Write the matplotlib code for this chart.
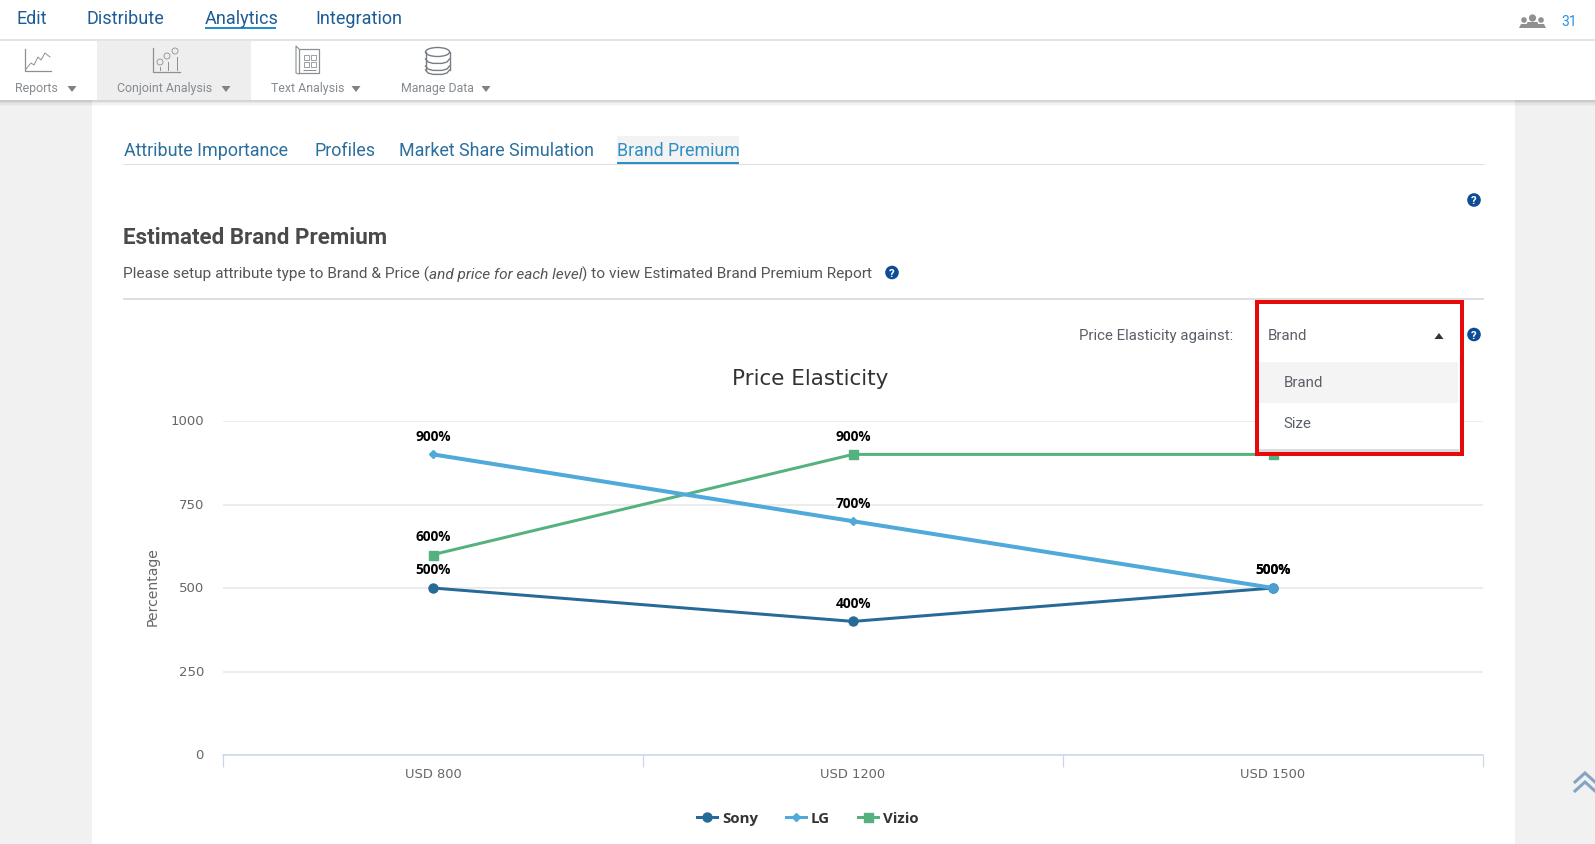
"""Price Elasticity line chart inside the Brand Premium report screen."""
import matplotlib
matplotlib.use("Agg")
import matplotlib.pyplot as plt
from matplotlib.patches import Circle, Ellipse, Polygon, Rectangle
from matplotlib.transforms import ScaledTranslation

W, H = 1595, 845

price_levels = ["USD 800", "USD 1200", "USD 1500"]
sony_values = [500, 400, 500]
lg_values = [900, 700, 500]
vizio_values = [600, 900, 900]
y_ticks = [0, 250, 500, 750, 1000]

nav_items = [("Edit", 16), ("Distribute", 86), ("Analytics", 205), ("Integration", 315)]
tool_items = [("Reports", 15, 72), ("Conjoint Analysis", 117, 226),
              ("Text Analysis", 271, 356), ("Manage Data", 401, 486)]
tab_items = [("Attribute Importance", 124), ("Profiles", 315),
             ("Market Share Simulation", 399)]

UI_FONT = "Roboto"
CHART_FONT = "DejaVu Sans"
LABEL_FONT = "Open Sans"
NAV_BLUE = "#1d5c96"
TAB_BLUE = "#2a6f9e"
ICON_GRAY = "#8b9095"
HELP_BLUE = "#0f4c96"


def px(size):
    # css pixels to points at dpi 100
    return size * 0.72


def add_layer(fig, zorder):
    ax = fig.add_axes([0, 0, 1, 1], zorder=zorder)
    ax.set_xlim(0, W)
    ax.set_ylim(H, 0)
    ax.axis("off")
    ax.patch.set_alpha(0)
    return ax


def rect(ax, x0, y0, x1, y1, color, **kw):
    ax.add_patch(Rectangle((x0, y0), x1 - x0, y1 - y0, facecolor=color,
                           edgecolor="none", **kw))


def hline(ax, x0, x1, y, color, width=1.0):
    ax.plot([x0, x1], [y, y], color=color, lw=px(width), solid_capstyle="butt")


def down_arrow(ax, x, y, up=False, color="#7b8288", size=4.5):
    tip = y - 3 if up else y + 3.5
    base = y + 3 if up else y - 2.5
    ax.add_patch(Polygon([(x - size, base), (x + size, base), (x, tip)],
                         facecolor=color, edgecolor="none"))


def help_icon(ax, x, y):
    ax.add_patch(Circle((x, y), 6.8, facecolor=HELP_BLUE, edgecolor="none"))
    ax.text(x, y + 0.3, "?", color="white", fontsize=px(11.5), fontweight="bold",
            family=UI_FONT, ha="center", va="center")


def draw_toolbar_icons(ax):
    # Reports
    ax.plot([25, 25, 51], [50, 72, 72], color=ICON_GRAY, lw=0.9)
    ax.plot([26, 31, 34, 38, 41, 45, 50], [70, 64, 66, 58, 61, 54, 58],
            color=ICON_GRAY, lw=0.7)
    # Conjoint Analysis
    ax.plot([153, 153, 180], [49, 73, 73], color=ICON_GRAY, lw=0.9)
    for cx, cy in [(160, 63), (167, 57), (175, 52)]:
        ax.add_patch(Circle((cx, cy), 3, facecolor="none", edgecolor=ICON_GRAY, lw=0.6))
    for x0, y0 in [(160, 68), (168, 63), (177, 58)]:
        ax.plot([x0, x0], [y0, 71], color=ICON_GRAY, lw=0.7)
    # Text Analysis
    ax.add_patch(Rectangle((299, 50), 20, 24, facecolor="none", edgecolor=ICON_GRAY, lw=0.9))
    ax.plot([299, 296, 296, 299], [50, 47, 74, 75], color=ICON_GRAY, lw=0.8)
    for bx, by in [(304, 56), (311, 56), (304, 63), (311, 63)]:
        ax.add_patch(Rectangle((bx, by), 5, 5, facecolor="none", edgecolor=ICON_GRAY, lw=0.6))
    hline(ax, 303, 316, 71, ICON_GRAY)
    # Manage Data
    color = "#777d83"
    ax.add_patch(Ellipse((437.5, 53), 24, 9, facecolor="white", edgecolor=color, lw=1.0))
    for cy in (61, 68):
        ax.plot([425.5, 428, 433, 442, 447, 449.5],
                [cy - 1, cy + 2, cy + 3.4, cy + 3.4, cy + 2, cy - 1], color=color, lw=1.0)
    ax.plot([425.5, 428, 433, 442, 447, 449.5],
            [71, 74, 75.4, 75.4, 74, 71], color=color, lw=1.0)
    for x0 in (425.5, 449.5):
        ax.plot([x0, x0], [53, 71], color=color, lw=1.0)


def draw_users_icon(ax):
    for cx, cy, r, w, top in [(1524, 21, 2.8, 5, 25), (1541, 21, 2.8, 5, 25),
                              (1532.5, 19, 3.6, 7, 23)]:
        ax.add_patch(Circle((cx, cy), r, facecolor="#8f9090", edgecolor="none"))
        ax.add_patch(Polygon([(cx - w, 29), (cx + w, 29), (cx + w - 2, top),
                              (cx - w + 2, top)], facecolor="#8f9090", edgecolor="none"))


def draw_page(ax):
    rect(ax, 0, 0, W, H, "#f1f1f1")
    rect(ax, 92, 101, 1515, H, "white")
    rect(ax, 0, 0, W, 101, "white")
    # soft shadow under the toolbar
    for i, alpha in enumerate([0.16, 0.09, 0.05, 0.025]):
        rect(ax, 0, 101 + i * 1.5, W, 102.5 + i * 1.5, "black", alpha=alpha)
    hline(ax, 0, W, 41, "#dcdcdc", 1.5)
    rect(ax, 97, 42, 251, 101, "#eeeeee")

    for label, x in nav_items:
        ax.text(x, 19, label, color=NAV_BLUE, fontsize=px(18), family=UI_FONT,
                ha="left", va="center")
    rect(ax, 205, 28, 276, 30, "#1e90d0")
    draw_users_icon(ax)
    ax.text(1561, 22, "31", color="#2d8fe0", fontsize=px(14), family=UI_FONT,
            ha="left", va="center")

    for label, x, arrow_x in tool_items:
        ax.text(x, 88.5, label, color="#858b90", fontsize=px(12.4), family=UI_FONT,
                ha="left", va="center")
        down_arrow(ax, arrow_x, 89.5)
    draw_toolbar_icons(ax)

    for label, x in tab_items:
        ax.text(x, 151, label, color=TAB_BLUE, fontsize=px(17.9), family=UI_FONT,
                ha="left", va="center")
    rect(ax, 617, 137, 739, 163, "#f3f3f3")
    ax.text(617, 150.5, "Brand Premium", color="#2f8fc4", fontsize=px(17.7),
            family=UI_FONT, ha="left", va="center")
    hline(ax, 123, 1484, 165, "#dddddd")
    rect(ax, 617, 163, 739, 166, "#2a90c8")
    help_icon(ax, 1474, 201)

    ax.text(123, 238, "Estimated Brand Premium", color="#4a4a4a", fontsize=px(22.4),
            fontweight="bold", family=UI_FONT, ha="left", va="center")
    sub_kw = dict(color="#555555", fontsize=px(15.45), family=UI_FONT)
    t = ax.text(123, 274, "Please setup attribute type to Brand & Price (", ha="left",
                va="center", **sub_kw)
    t = ax.annotate("and price for each level", xy=(1, 0), xycoords=t, xytext=(0, 0),
                    textcoords="offset points", style="italic", ha="left",
                    va="bottom", **sub_kw)
    ax.annotate(") to view Estimated Brand Premium Report", xy=(1, 0), xycoords=t,
                xytext=(0, 0), textcoords="offset points", ha="left", va="bottom", **sub_kw)
    help_icon(ax, 892, 273.5)
    hline(ax, 123, 1484, 300, "#d4d4d4", 1.5)

    ax.text(810, 379, "Price Elasticity", color="#333333", fontsize=px(21.5),
            family=CHART_FONT, ha="center", va="center")
    ax.text(1079, 336, "Price Elasticity against:", color="#5a6068", fontsize=px(15),
            family=UI_FONT, ha="left", va="center")
    help_icon(ax, 1474, 335.5)

    # back to top chevrons
    for y0 in (774, 783):
        ax.plot([1575, 1585, 1595], [y0 + 9, y0, y0 + 9], color="#83a5c4", lw=2.2,
                solid_joinstyle="miter", clip_on=True)


def draw_dropdown(ax):
    rect(ax, 1257, 303, 1462, 455, "white")
    rect(ax, 1459, 356, 1461, 453, "#f6f6f6")
    rect(ax, 1258, 363, 1458, 404, "#f4f4f4")
    rect(ax, 1258, 450, 1459, 453, "#dcdcdc")
    item_kw = dict(color="#5a6068", fontsize=px(15), family=UI_FONT, ha="left", va="center")
    ax.text(1268, 336, "Brand", **item_kw)
    ax.text(1284, 383, "Brand", **item_kw)
    ax.text(1283, 424, "Size", **item_kw)
    down_arrow(ax, 1439, 337, up=True, color="#333333", size=4.5)
    ax.add_patch(Rectangle((1257, 303), 205, 152, facecolor="none",
                           edgecolor="#e60a0a", lw=px(4), joinstyle="miter"))


def draw_chart(fig):
    left, right, top, bottom = 223, 1483, 422, 756
    ax = fig.add_axes([left / W, 1 - bottom / H, (right - left) / W, (bottom - top) / H],
                      zorder=1)
    ax.patch.set_alpha(0)
    positions = list(range(len(price_levels)))

    sony, = ax.plot(positions, sony_values, color="#266a98", lw=px(3), marker="o",
                    ms=px(9), label="Sony", clip_on=False, zorder=3)
    vizio, = ax.plot(positions, vizio_values, color="#53b27f", lw=px(3), marker="s",
                     ms=px(9), label="Vizio", clip_on=False, zorder=3)
    lg, = ax.plot(positions, lg_values, color="#4fa9d9", lw=px(4), marker="D",
                  ms=px(6), label="LG", clip_on=False, zorder=4)
    # LG's last point is drawn as a circle in the report
    ax.plot(positions[-1], lg_values[-1], color="#4a9fd0", marker="o", ms=px(9),
            clip_on=False, zorder=5)

    for values in (sony_values, lg_values, vizio_values):
        for pos, value in zip(positions, values):
            ax.annotate(f"{value}%", (pos, value), xytext=(0, px(18.5)),
                        textcoords="offset points", ha="center", va="center",
                        fontsize=px(13.6), fontweight="bold", color="black",
                        family=LABEL_FONT, zorder=6)

    ax.set_xlim(-0.5, len(price_levels) - 0.5)
    ax.set_ylim(0, 1000)
    ax.set_yticks(y_ticks)
    ax.grid(axis="y", color="#e6e6e6", lw=px(1.5))
    ax.set_axisbelow(True)
    ax.tick_params(axis="y", length=0, pad=px(19), labelsize=px(13.3), labelcolor="#666666")

    # category boundaries get the ticks, labels sit in the middle
    ax.set_xticks([p - 0.5 for p in positions] + [positions[-1] + 0.5])
    ax.set_xticklabels([])
    ax.set_xticks(positions, minor=True)
    ax.set_xticklabels(price_levels, minor=True)
    ax.tick_params(axis="x", which="major", length=px(12), width=px(1.2), color="#ccd6eb")
    ax.tick_params(axis="x", which="minor", length=0, pad=px(12), labelsize=px(13),
                   labelcolor="#666666")
    for side in ("top", "left", "right"):
        ax.spines[side].set_visible(False)
    ax.spines["bottom"].set_color("#ccd6eb")
    ax.spines["bottom"].set_linewidth(px(1.5))
    for label in ax.get_xticklabels(minor=True):
        label.set_family(CHART_FONT)
    # y labels sit a little above their gridlines
    lift = ScaledTranslation(0, 1.5 / 100, fig.dpi_scale_trans)
    for label in ax.get_yticklabels():
        label.set_family(CHART_FONT)
        label.set_transform(label.get_transform() + lift)

    fig.text(153 / W, 1 - 587 / H, "Percentage", rotation=90, color="#666666",
             fontsize=px(14), family=CHART_FONT, ha="center", va="center")

    leg = ax.legend(handles=[sony, lg, vizio], loc="center", ncols=3, frameon=False,
                    bbox_to_anchor=(808 / W, 1 - 819.5 / H),
                    bbox_transform=fig.transFigure,
                    prop={"family": LABEL_FONT, "weight": "bold", "size": px(15)},
                    labelcolor="#333333", handlelength=1.33, handletextpad=0.33,
                    columnspacing=1.87, numpoints=1)
    for handle in leg.get_lines():
        handle.set_linewidth(px(3))


def main():
    fig = plt.figure(figsize=(W / 100, H / 100), dpi=100)
    page = add_layer(fig, 0)
    draw_page(page)
    draw_chart(fig)
    top = add_layer(fig, 2)
    draw_dropdown(top)
    fig.savefig("out.png", dpi=100)
    plt.close(fig)


if __name__ == "__main__":
    main()
